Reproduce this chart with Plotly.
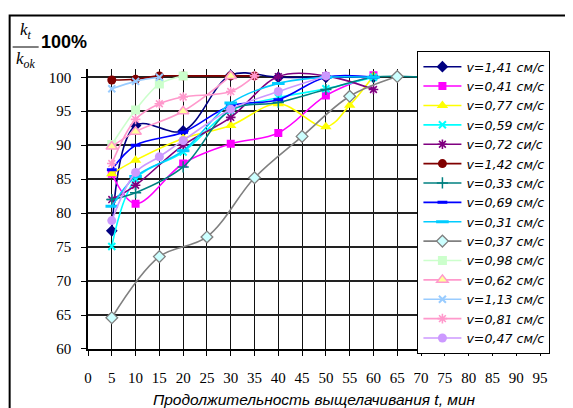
import plotly.graph_objects as go

# ---- data ----
names = ["v=1,41 см/с", "v=0,41 см/с", "v=0,77 см/с", "v=0,59 см/с", "v=0,72 си/с",
         "v=1,42 см/с", "v=0,33 см/с", "v=0,69 см/с", "v=0,31 см/с", "v=0,37 см/с",
         "v=0,98 см/с", "v=0,62 см/с", "v=1,13 см/с", "v=0,81 см/с", "v=0,47 см/с"]

t_141 = [5, 10, 20, 30, 40, 50, 60]
k_141 = [77.4, 92.9, 92.1, 100.3, 100.0, 100.0, 100.0]

t_041 = [5, 10, 20, 30, 40, 50, 60]
k_041 = [85.8, 81.4, 87.3, 90.2, 91.8, 97.3, 100.3]

t_077 = [5, 10, 20, 30, 40, 50, 55, 60]
k_077 = [85.8, 87.8, 91.0, 92.9, 96.1, 92.7, 95.9, 100.2]

t_059 = [5, 10, 20, 30, 40, 50, 60]
k_059 = [75.1, 85.0, 89.0, 95.1, 97.0, 98.3, 100.0]

t_072 = [5, 10, 20, 30, 40, 50, 60]
k_072 = [82.0, 84.1, 90.0, 94.1, 100.1, 100.2, 98.2]

t_142 = [5, 10, 15, 20, 30, 35]
k_142 = [99.6, 99.7, 100.2, 100.2, 100.2, 100.2]

t_033 = [5, 10, 20, 30, 40, 50, 60, 70]
k_033 = [82.0, 83.0, 86.8, 95.2, 96.3, 98.2, 100.0, 100.0]

t_069 = [5, 10, 20, 30, 40, 50, 60]
k_069 = [86.4, 90.0, 91.9, 95.8, 96.7, 100.0, 100.0]

t_031 = [5, 10, 20, 30, 40, 50, 60]
k_031 = [81.0, 85.4, 89.2, 96.2, 99.1, 100.0, 100.0]

t_037 = [5, 15, 25, 35, 45, 55, 65]
k_037 = [64.6, 73.6, 76.5, 85.2, 91.3, 97.2, 100.1]

t_098 = [5, 10, 15, 20]
k_098 = [90.1, 95.2, 99.0, 100.2]

t_062 = [5, 10, 20, 30]
k_062 = [89.8, 92.0, 95.0, 100.2]

t_113 = [5, 10, 15]
k_113 = [98.3, 99.4, 100.0]

t_081 = [5, 10, 15, 20, 30, 35]
k_081 = [87.3, 93.8, 96.1, 97.1, 97.9, 100.2]

t_047 = [5, 10, 15, 20, 30, 40, 50]
k_047 = [78.9, 86.0, 88.3, 90.7, 95.3, 97.9, 100.2]

x_ticks = list(range(0, 100, 5))
y_ticks = list(range(60, 101, 5))

series = [
    (t_141, k_141), (t_041, k_041), (t_077, k_077), (t_059, k_059), (t_072, k_072),
    (t_142, k_142), (t_033, k_033), (t_069, k_069), (t_031, k_031), (t_037, k_037),
    (t_098, k_098), (t_062, k_062), (t_113, k_113), (t_081, k_081), (t_047, k_047),
]

# styles: (line color, marker symbol, marker size, marker fill, marker line color, marker line width)
styles = [
    ("#000080", "diamond", 9, "#000080", "#000080", 0),
    ("#FF00FF", "square", 8, "#FF00FF", "#FF00FF", 0),
    ("#FFFF00", "triangle-up", 10, "#FFFF00", "#FFFF00", 0),
    ("#00FFFF", "x-thin", 7, "#00FFFF", "#00FFFF", 2),
    ("#800080", "asterisk", 8, "#800080", "#800080", 1.6),
    ("#800000", "circle", 9, "#800000", "#800000", 0),
    ("#008080", "cross-thin", 8, "#008080", "#008080", 1.5),
    ("#0000FF", "line-ew", 7, "#0000FF", "#0000FF", 3),
    ("#00CCFF", "line-ew", 9, "#00CCFF", "#00CCFF", 3),
    ("#808080", "diamond", 9, "#CCFFFF", "#808080", 1.3),
    ("#CCFFCC", "square", 9, "#CCFFCC", "#CCFFCC", 0),
    ("#FF99CC", "triangle-up", 10, "#FFFF99", "#FF99CC", 1.5),
    ("#99CCFF", "x-thin", 7, "#99CCFF", "#99CCFF", 2),
    ("#FF99CC", "asterisk", 8, "#FF99CC", "#FF99CC", 1.6),
    ("#CC99FF", "circle", 9, "#CC99FF", "#CC99FF", 0),
]

fig = go.Figure()
for name, (xs, ys), (lc, sym, sz, fc, mlc, mlw) in zip(names, series, styles):
    fig.add_trace(go.Scatter(
        x=xs, y=ys, name=name, mode="lines+markers",
        line=dict(color=lc, width=1.6, shape="spline", smoothing=1.0),
        marker=dict(symbol=sym, size=sz, color=fc, line=dict(color=mlc, width=mlw)),
    ))

# page body has an 8px margin: work in window pixels and shift by OFF
OFF = 8
W, H = 573 - OFF, 408 - OFF
PL, PR, PT, PB = 88.3, 540.0, 68.3, 348.7      # plot area in window pixels
LEG_TOP = 50.5
L = PL - OFF
R = W - (PR - OFF)
T = LEG_TOP - OFF
B = H - (PB - OFF)
pw = W - L - R
ph = H - T - B
ydom_top = (PB - PT) / ph


def px(x):
    return (x - OFF - L) / pw


def py(y):
    return (H - B - (y - OFF)) / ph


fig.update_layout(
    width=W, height=H,
    margin=dict(l=L, r=R, t=T, b=B, pad=0, autoexpand=False),
    paper_bgcolor="white", plot_bgcolor="white",
    showlegend=True,
    legend=dict(
        x=px(417.5), y=1.0, xanchor="left", yanchor="top",
        bgcolor="white", bordercolor="black", borderwidth=1,
        font=dict(family="DejaVu Sans", size=12.6, color="black", style="italic"),
        tracegroupgap=0, itemwidth=38, maxheight=400,
    ),
    xaxis=dict(
        range=[0, 95], tickmode="array", tickvals=x_ticks,
        ticktext=[str(v) for v in x_ticks],
        showgrid=True, gridcolor="#111111", gridwidth=1,
        showline=True, linecolor="black", linewidth=1.5,
        ticks="outside", ticklen=5, tickcolor="black", ticklabelstandoff=9,
        zeroline=False, automargin=False,
        tickfont=dict(family="Liberation Serif", size=15, color="black"),
        title=dict(text="Продолжительность выщелачивания t, мин",
                   font=dict(family="Liberation Sans", size=15.5, color="black", style="italic"),
                   standoff=9),
    ),
    yaxis=dict(
        domain=[0, ydom_top],
        range=[60, 101.25], tickmode="array", tickvals=y_ticks,
        ticktext=[str(v) for v in y_ticks],
        showgrid=True, gridcolor="#222222", gridwidth=1.6,
        showline=True, linecolor="black", linewidth=1.5,
        ticks="outside", ticklen=5, tickcolor="black", ticklabelstandoff=7,
        zeroline=False, automargin=False,
        tickfont=dict(family="Liberation Serif", size=15, color="black"),
    ),
    shapes=[
        dict(type="rect", xref="paper", yref="paper",
             x0=px(10), x1=px(600), y0=py(440), y1=py(15),
             line=dict(color="black", width=2), fillcolor="rgba(0,0,0,0)", layer="above"),
        dict(type="line", xref="paper", yref="paper",
             x0=px(13), x1=px(39), y0=py(46.5), y1=py(46.5),
             line=dict(color="black", width=1)),
    ],
    annotations=[
        dict(xref="paper", yref="paper", x=px(26), y=py(30), xanchor="center", yanchor="middle",
             text="<i>k<sub>t</sub></i>", showarrow=False,
             font=dict(family="Liberation Serif", size=17, color="black")),
        dict(xref="paper", yref="paper", x=px(26), y=py(60), xanchor="center", yanchor="middle",
             text="<i>k<sub>ok</sub></i>", showarrow=False,
             font=dict(family="Liberation Serif", size=17, color="black")),
        dict(xref="paper", yref="paper", x=px(39), y=py(41.5), xanchor="left", yanchor="middle",
             text="<b>100%</b>", showarrow=False,
             font=dict(family="Liberation Sans", size=18, color="black")),
    ],
)

fig.write_html("out.html")
